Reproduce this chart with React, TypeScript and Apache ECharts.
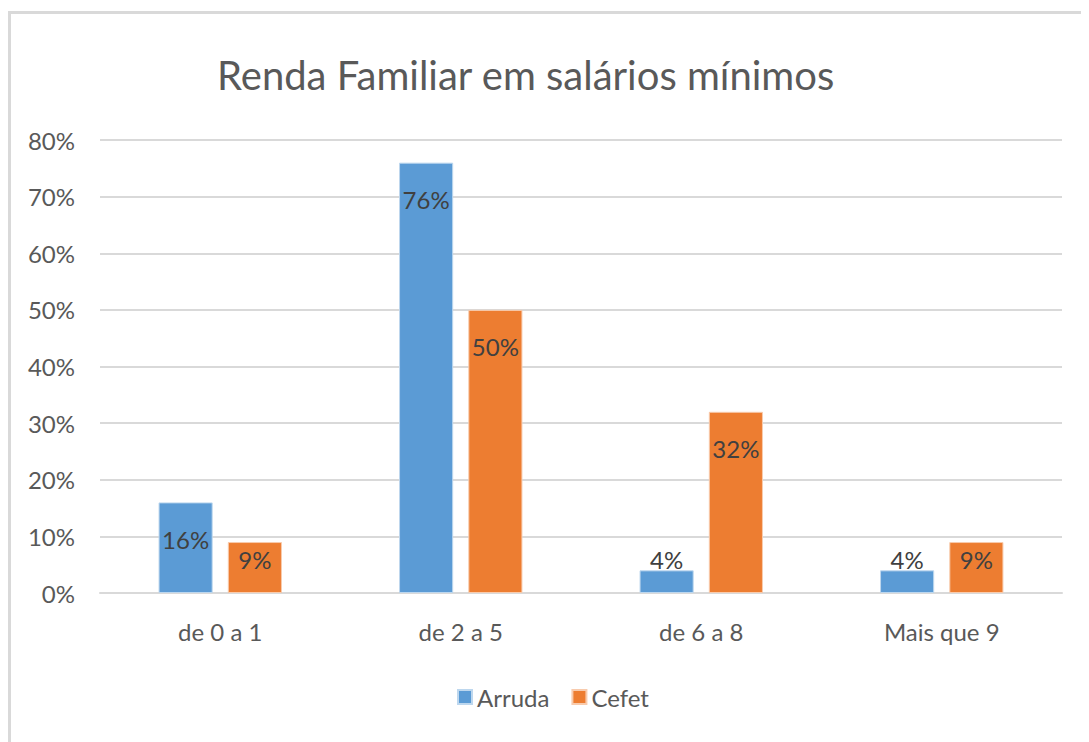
import React, { useEffect, useRef } from "react";
import * as echarts from "echarts";

const categories = ["de 0 a 1", "de 2 a 5", "de 6 a 8", "Mais que 9"];
const arruda = [16, 76, 4, 4];
const cefet = [9, 50, 32, 9];
const yTicks = [0, 10, 20, 30, 40, 50, 60, 70, 80];

const FONT = "Lato";

function labelFor(v: number) {
  if (v < 10) {
    return { position: "insideBottom", distance: 22 };
  }
  return { position: "insideTop", distance: 25 };
}

export default function App() {
  const ref = useRef<HTMLDivElement>(null);
  useEffect(() => {
    if (!ref.current) return;
    const chart = echarts.init(ref.current, undefined, { renderer: "svg" });
    const mk = (vals: number[]) =>
      vals.map((v) => ({ value: v, label: labelFor(v) }));
    chart.setOption({
      animation: false,
      backgroundColor: "#ffffff",
      textStyle: { fontFamily: FONT },
      title: {
        text: "Renda Familiar em salários mínimos",
        left: 204,
        top: 42,
        textStyle: { fontFamily: FONT, fontSize: 40, fontWeight: "normal", color: "#595959" },
      },
      graphic: [
        { type: "rect", shape: { x: 0, y: 3, width: 1081, height: 3 }, style: { fill: "#d9d9d9" } },
        { type: "rect", shape: { x: 0, y: 3, width: 3, height: 731 }, style: { fill: "#d9d9d9" } },
      ],
      legend: {
        data: ["Arruda", "Cefet"],
        left: 444,
        top: 672,
        itemWidth: 14,
        itemHeight: 14,
        itemGap: 22,
        icon: "rect",
        textStyle: { fontFamily: FONT, fontSize: 24, color: "#595959" },
      },
      grid: { left: 92, right: 27, top: 132, bottom: 149 },
      xAxis: {
        type: "category",
        data: categories,
        axisLine: { lineStyle: { color: "#d9d9d9", width: 2 } },
        axisTick: { show: false },
        axisLabel: { fontFamily: FONT, fontSize: 24, color: "#595959", margin: 26 },
      },
      yAxis: {
        type: "value",
        min: 0,
        max: 80,
        interval: 10,
        axisLine: { show: false },
        axisTick: { show: false },
        splitLine: { lineStyle: { color: "#d9d9d9", width: 2 } },
        axisLabel: {
          fontFamily: FONT,
          fontSize: 24,
          color: "#595959",
          margin: 25,
          formatter: (v: number) => (yTicks.includes(v) ? v + "%" : ""),
        },
      },
      series: [
        {
          name: "Arruda",
          type: "bar",
          data: mk(arruda),
          barWidth: "22.5%",
          barGap: "28%",
          itemStyle: { color: "#5b9bd5", borderColor: "#bdd7ee", borderWidth: 1 },
          label: {
            show: true,
            formatter: "{c}%",
            fontFamily: FONT,
            fontSize: 24,
            color: "#404040",
          },
        },
        {
          name: "Cefet",
          type: "bar",
          data: mk(cefet),
          barWidth: "22.5%",
          itemStyle: { color: "#ed7d31", borderColor: "#f8cbad", borderWidth: 1 },
          label: {
            show: true,
            formatter: "{c}%",
            fontFamily: FONT,
            fontSize: 24,
            color: "#404040",
          },
        },
      ],
    });
    return () => chart.dispose();
  }, []);
  return <div ref={ref} style={{ width: 1081, height: 734 }} />;
}
